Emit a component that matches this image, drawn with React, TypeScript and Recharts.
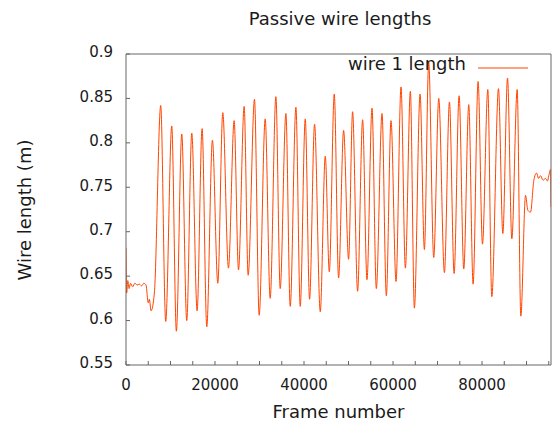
import { LineChart, Line, XAxis, YAxis, Legend } from 'recharts'

// frame number / wire length (m) (peaks and troughs)
const frames = [
  0, 150, 400, 700, 1000, 1500, 2000, 2500, 3000, 3500, 4000, 4500, 5000, 5250, 5625, 6375,
  7800, 8925, 10280, 11320, 12530, 13650, 14780, 15980, 17100, 18150, 19420, 20630,
  21750, 23020, 24300, 25280, 26550, 27450, 28870, 29930, 31280, 32400, 33680, 34650,
  35930, 36900, 38180, 39150, 40280, 41250, 42370, 43650, 44780, 45680, 46800, 47770,
  48900, 50020, 50920, 52040, 53170, 54150, 55280, 56250, 57530, 58500, 59550, 60680,
  61800, 62780, 63900, 64800, 66080, 67050, 68020, 69150, 70280, 71550, 72680, 73730,
  74850, 75900, 77020, 78000, 79120, 80100, 81300, 82200, 83700, 84680, 85730, 86700,
  87900, 88720, 89780, 90300, 90900, 91650, 92250, 92700, 93150, 93700, 94280, 94700,
  95000, 95400, 95500,
]
const lengths = [
  0.682, 0.631, 0.645, 0.636, 0.642, 0.638, 0.642, 0.64, 0.641, 0.639, 0.642, 0.64, 0.62, 0.624, 0.611, 0.631,
  0.842, 0.599, 0.819, 0.588, 0.81, 0.6, 0.811, 0.611, 0.816, 0.593, 0.803, 0.642,
  0.834, 0.659, 0.825, 0.657, 0.841, 0.651, 0.849, 0.606, 0.827, 0.625, 0.852, 0.636,
  0.833, 0.616, 0.84, 0.616, 0.827, 0.624, 0.821, 0.61, 0.785, 0.655, 0.855, 0.648,
  0.814, 0.669, 0.835, 0.633, 0.826, 0.646, 0.839, 0.636, 0.833, 0.628, 0.825, 0.644,
  0.863, 0.659, 0.858, 0.614, 0.855, 0.68, 0.891, 0.671, 0.85, 0.654, 0.846, 0.653,
  0.853, 0.658, 0.843, 0.641, 0.869, 0.686, 0.86, 0.627, 0.861, 0.698, 0.873, 0.692,
  0.86, 0.605, 0.741, 0.724, 0.722, 0.758, 0.766, 0.76, 0.763, 0.758, 0.76, 0.757,
  0.763, 0.77, 0.728,
]

const xLabelTicks = [0, 20000, 40000, 60000, 80000]
const xTicks = [
  0, 5000, 10000, 15000, 20000, 25000, 30000, 35000, 40000, 45000,
  50000, 55000, 60000, 65000, 70000, 75000, 80000, 85000, 90000, 95000,
]
const yTicks = [0.55, 0.6, 0.65, 0.7, 0.75, 0.8, 0.85, 0.9]

const data = frames.map((f, i) => ({ frame: f, length: lengths[i] }))

const FONT = 'DejaVu Sans'
const INK = '#1a1a1a'
const BORDER = '#666'
const LINE = '#ff4500'
const X_DOMAIN = [0, 95500]
const Y_DOMAIN = [0.55, 0.9]

function LegendBox(props: any) {
  const item = props.payload && props.payload[0]
  return (
    <svg width={200} height={30} style={{ display: 'block' }}>
      <text x={126} y={16} textAnchor="end" fontSize={18} fontFamily={FONT} fill={INK}>
        {item ? item.value : ''}
      </text>
      <line x1={138} x2={188} y1={14} y2={14} stroke={LINE} strokeWidth={1} />
    </svg>
  )
}

export default function App() {
  return (
    <div style={{ position: 'absolute', left: 0, top: 0, width: 553, height: 426, background: '#fff' }}>
      <LineChart
        width={553}
        height={426}
        data={data}
        margin={{ top: 53, right: 1, bottom: 5, left: 66 }}
        style={{ fontFamily: FONT }}
      >
        <XAxis
          dataKey="frame"
          type="number"
          domain={X_DOMAIN}
          allowDataOverflow
          ticks={xTicks}
          interval={0}
          tickFormatter={(v: number) => (xLabelTicks.includes(v) ? String(v) : '')}
          tickSize={-4}
          tickMargin={18}
          height={56}
          stroke={BORDER}
          tick={{ fontSize: 15, fill: INK }}
          label={{ value: 'Frame number', position: 'insideBottom', offset: 3, fontSize: 18, fill: INK }}
        />
        <XAxis
          xAxisId="top"
          orientation="top"
          type="number"
          domain={X_DOMAIN}
          allowDataOverflow
          ticks={xTicks}
          interval={0}
          tick={false}
          tickSize={-4}
          height={1}
          stroke={BORDER}
        />
        <YAxis
          type="number"
          domain={Y_DOMAIN}
          allowDataOverflow
          ticks={yTicks}
          interval={0}
          tickSize={-4}
          tickMargin={17}
          width={60}
          stroke={BORDER}
          tick={{ fontSize: 15, fill: INK, dy: -2 }}
        />
        <YAxis
          yAxisId="right"
          orientation="right"
          type="number"
          domain={Y_DOMAIN}
          allowDataOverflow
          ticks={yTicks}
          interval={0}
          tick={false}
          tickSize={-4}
          width={1}
          stroke={BORDER}
        />
        <Legend
          layout="horizontal"
          verticalAlign="middle"
          align="center"
          wrapperStyle={{ top: 54, left: 340, width: 200, height: 30 }}
          content={LegendBox}
        />
        <Line
          type="monotone"
          dataKey="length"
          name="wire 1 length"
          stroke={LINE}
          strokeWidth={1}
          dot={false}
          activeDot={false}
          isAnimationActive={false}
        />
      </LineChart>
      <svg
        width={553}
        height={426}
        style={{ position: 'absolute', left: 0, top: 0, pointerEvents: 'none' }}
      >
        <text x={340} y={25} textAnchor="middle" fontSize={18} fontFamily={FONT} fill={INK}>
          Passive wire lengths
        </text>
        <text
          x={31}
          y={210}
          transform="rotate(-90 31 210)"
          textAnchor="middle"
          fontSize={18}
          fontFamily={FONT}
          fill={INK}
        >
          Wire length (m)
        </text>
      </svg>
    </div>
  )
}
